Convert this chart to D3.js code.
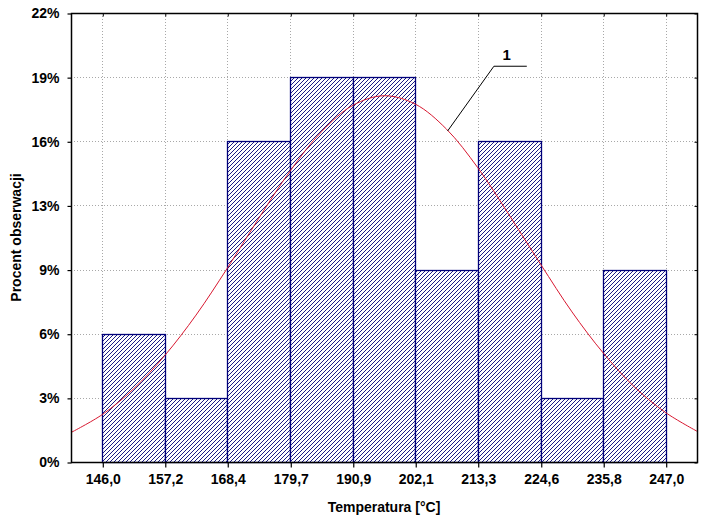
<!DOCTYPE html>
<html><head><meta charset="utf-8">
<script src="https://cdn.jsdelivr.net/npm/d3@7"></script>
<style>
html,body{margin:0;padding:0;background:#fff;}
svg{display:block;}
text{font-family:"Liberation Sans",Arial,sans-serif;font-weight:bold;fill:#000;}
</style></head><body>
<script>
// ---- data ----
const binEdges = [146.0, 157.2, 168.4, 179.7, 190.9, 202.1, 213.3, 224.6, 235.8, 247.0];
const xTickLabels = ["146,0","157,2","168,4","179,7","190,9","202,1","213,3","224,6","235,8","247,0"];
const counts = [2, 1, 5, 6, 6, 3, 5, 1, 3];
const yTickValues = [0, 1, 2, 3, 4, 5, 6, 7];
const yTickLabels = ["0%","3%","6%","9%","13%","16%","19%","22%"];
// fitted normal curve (temperature, expected count)
const curveX = [140.4,146,151.6,157.2,162.8,168.4,174.05,179.7,185.3,190.9,196.5,202.1,207.7,213.3,218.95,224.6,230.2,235.8,241.4,247,252.6];
const curveY = [0.46,0.74,1.14,1.66,2.29,3.02,3.80,4.54,5.15,5.56,5.71,5.58,5.19,4.59,3.85,3.08,2.34,1.70,1.17,0.77,0.48];
const annotLabel = "1";
const xTitle = "Temperatura [°C]";
const yTitle = "Procent obserwacji";

// ---- layout ----
const W = 704, H = 522;
const m = {left: 71, top: 13, right: 697, bottom: 462};
const halfBin = (binEdges[binEdges.length-1] - binEdges[0]) / (binEdges.length - 1) / 2;

const x = d3.scaleLinear()
  .domain([binEdges[0] - halfBin, binEdges[binEdges.length-1] + halfBin])
  .range([m.left, m.right]);
const y = d3.scaleLinear().domain([0, 7]).range([m.bottom, m.top]);

const svg = d3.select("body").append("svg").attr("width", W).attr("height", H);

const defs = svg.append("defs");
const pat = defs.append("pattern").attr("id","hatch")
  .attr("patternUnits","userSpaceOnUse").attr("width",4).attr("height",4);
pat.append("rect").attr("width",4).attr("height",4).attr("fill","#fff");
[[3,0],[2,1],[1,2],[0,3]].forEach(p => pat.append("rect")
  .attr("x",p[0]).attr("y",p[1]).attr("width",1).attr("height",1)
  .attr("fill","#1c1c84").attr("shape-rendering","crispEdges"));

// grid
const grid = svg.append("g");
grid.selectAll("line.gx").data(binEdges).join("line")
  .attr("x1", d => Math.round(x(d)) + 0.5).attr("x2", d => Math.round(x(d)) + 0.5)
  .attr("y1", m.top).attr("y2", m.bottom)
  .attr("stroke","#a8a8a8").attr("stroke-dasharray","1,2");
grid.selectAll("line.gy").data(yTickValues.slice(1, -1)).join("line")
  .attr("y1", d => Math.round(y(d)) + 0.5).attr("y2", d => Math.round(y(d)) + 0.5)
  .attr("x1", m.left).attr("x2", m.right)
  .attr("stroke","#a8a8a8").attr("stroke-dasharray","1,2");

// bars
svg.append("g").selectAll("rect").data(counts).join("rect")
  .attr("x", (d,i) => Math.round(x(binEdges[i])) + 0.5)
  .attr("width", (d,i) => Math.round(x(binEdges[i+1])) - Math.round(x(binEdges[i])))
  .attr("y", d => Math.round(y(d)) + 0.5)
  .attr("height", d => Math.round(y(0)) - Math.round(y(d)))
  .attr("fill","url(#hatch)")
  .attr("stroke","#00007a").attr("stroke-width",1.3);

// normal curve
const pts = curveX.map((v,i) => [v, curveY[i]]);
svg.append("path").datum(pts)
  .attr("d", d3.line().x(d => x(d[0])).y(d => y(d[1])).curve(d3.curveCatmullRom))
  .attr("fill","none").attr("stroke","#d81830").attr("stroke-width",1);

// annotation leader
const annot = [[207.9, 5.16], [216.2, 6.17], [222.1, 6.17]];
svg.append("path").datum(annot)
  .attr("d", d3.line().x(d => x(d[0])).y(d => y(d[1])))
  .attr("fill","none").attr("stroke","#000").attr("stroke-width",1);
svg.append("text").attr("x", x(218.5)).attr("y", y(6.27))
  .attr("text-anchor","middle").style("font-size","15px").text(annotLabel);

// frame
svg.append("rect").attr("x", m.left + 0.5).attr("y", m.top + 0.5)
  .attr("width", m.right - m.left).attr("height", m.bottom - m.top)
  .attr("fill","none").attr("stroke","#000").attr("stroke-width",1.5);

// axes
const xAxis = d3.axisBottom(x).tickValues(binEdges)
  .tickFormat((d,i) => xTickLabels[i]).tickSizeOuter(0).tickSizeInner(5).tickPadding(7);
const gx = svg.append("g").attr("transform", `translate(0.5,${m.bottom + 0.5})`).call(xAxis);
gx.select(".domain").remove();
gx.selectAll("line").attr("stroke","#000").attr("stroke-width",1.2);
gx.selectAll("text").style("font-size","14px").style("font-family","Liberation Sans, Arial, sans-serif").style("font-weight","bold");

const yAxis = d3.axisLeft(y).tickValues(yTickValues)
  .tickFormat((d,i) => yTickLabels[i]).tickSizeOuter(0).tickSizeInner(4).tickPadding(8);
const gy = svg.append("g").attr("transform", `translate(${m.left + 0.5},0.5)`).call(yAxis);
gy.select(".domain").remove();
gy.selectAll("line").attr("stroke","#000").attr("stroke-width",1.2);
gy.selectAll("text").style("font-size","14px").style("font-family","Liberation Sans, Arial, sans-serif").style("font-weight","bold");

// inner ticks on top and right
const gt = svg.append("g").attr("transform", `translate(0.5,${m.top + 0.5})`)
  .call(d3.axisBottom(x).tickValues(binEdges).tickFormat("").tickSizeOuter(0).tickSizeInner(3));
gt.select(".domain").remove();
gt.selectAll("line").attr("stroke","#000");
const gr = svg.append("g").attr("transform", `translate(${m.right + 0.5},0.5)`)
  .call(d3.axisLeft(y).tickValues(yTickValues).tickFormat("").tickSizeOuter(0).tickSizeInner(3));
gr.select(".domain").remove();
gr.selectAll("line").attr("stroke","#000");

// titles
svg.append("text").attr("x", 384).attr("y", 512).attr("text-anchor","middle")
  .style("font-size","14px").text(xTitle);
svg.append("text").attr("transform", `translate(21,${(m.top + m.bottom)/2}) rotate(-90)`)
  .attr("text-anchor","middle").style("font-size","14px").text(yTitle);
</script>
</body></html>
